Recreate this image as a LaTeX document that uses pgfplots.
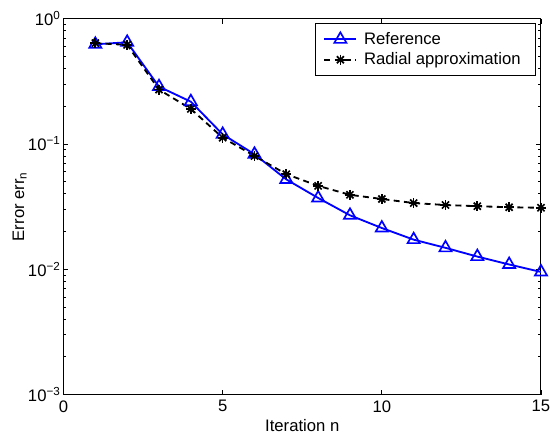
\documentclass[border=0pt]{standalone}
\usepackage{pgfplots}
\pgfplotsset{compat=1.18}
\usepackage{fontspec}
\setmainfont{Liberation Sans}
\pgfdeclareplotmark{mstar}{\pgfuseplotmark{+}\pgfuseplotmark{x}}
\begin{document}
\begin{tikzpicture}
\begin{axis}[
  at={(0,0)}, anchor=south west,
  scale only axis, width=286.5pt, height=225.6pt,
  xmin=0, xmax=15, ymode=log, ymin=1e-3, ymax=1,
  xtick={0,5,10,15},
  ytick={1e-3,1e-2,1e-1,1},
  yticklabels={10\textsuperscript{−3},10\textsuperscript{−2},10\textsuperscript{−1},10\textsuperscript{0}},
  /pgf/number format/assume math mode=true,
  tick align=inside,
  major tick length=3pt, minor tick length=1.8pt,
  tick style={black, line width=0.4pt},
  axis line style={line width=0.6pt},
  font=\fontsize{10}{12}\selectfont,
  yticklabel style={inner xsep=1.5pt},
  xlabel={Iteration n}, ylabel={Error err\textsubscript{n}},
  every axis x label/.style={at={(axis description cs:0.5,0)}, yshift=-21.9pt, anchor=base},
  every axis y label/.style={at={(axis description cs:-0.0921,0.5)}, rotate=90, anchor=center},
  legend style={at={(0.9895,0.987)}, anchor=north east, draw=black,
    font=\fontsize{10}{12}\selectfont, row sep=-0.5pt, inner xsep=5pt, inner ysep=3pt,
    nodes={inner xsep=4pt}},
  legend image code/.code={\draw[mark repeat=2,mark phase=2] plot coordinates {(0cm,0cm) (0.34cm,0cm) (0.68cm,0cm)};},
  legend cell align=left,
]
\addplot[blue, line width=1.1pt, mark=triangle, mark size=4.2pt, mark options={solid, line width=1pt}]
coordinates {(1,0.623)(2,0.646)(3,0.286)(4,0.217)(5,0.119)(6,0.0826)(7,0.052)(8,0.037)(9,0.0269)(10,0.0213)(11,0.0172)(12,0.0148)(13,0.0126)(14,0.0109)(15,0.0095)};
\addlegendentry{Reference}
\addplot[black, line width=1.1pt, dash pattern=on 3.6pt off 2.6pt, mark=mstar, mark size=3pt, mark options={solid, line width=1pt}]
coordinates {(1,0.636)(2,0.616)(3,0.271)(4,0.190)(5,0.112)(6,0.080)(7,0.0573)(8,0.0462)(9,0.0392)(10,0.0363)(11,0.0337)(12,0.0325)(13,0.0318)(14,0.0312)(15,0.0309)};
\addlegendentry{Radial approximation}
\end{axis}
\pgfresetboundingbox
\path (-38.1pt,-25.5pt) rectangle (291.9pt,236.7pt);
\end{tikzpicture}
\end{document}
